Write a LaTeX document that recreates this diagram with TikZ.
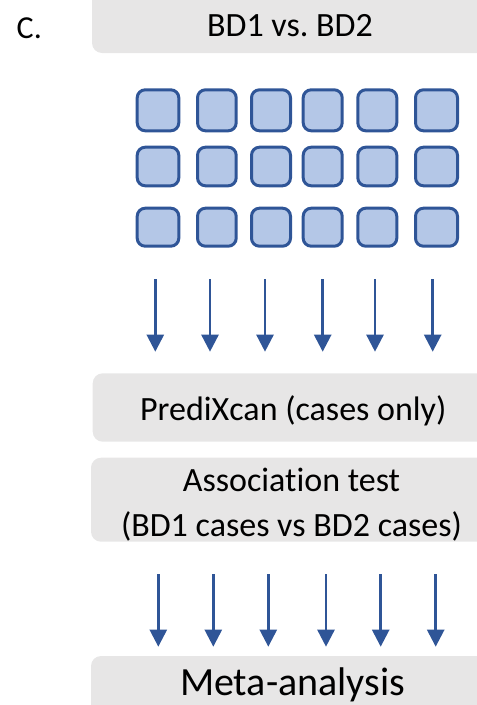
\documentclass[tikz,border=0pt]{standalone}
\usepackage{fontspec}
\setmainfont{Carlito}[RawFeature={-liga}]
\usetikzlibrary{arrows.meta}
\definecolor{boxgray}{HTML}{E7E6E6}
\definecolor{sqfill}{HTML}{B4C7E7}
\definecolor{sqline}{HTML}{2F5597}
\frenchspacing
\begin{document}
\begin{tikzpicture}[x=1pt,y=-1pt,
  graybox/.style={fill=boxgray, draw=none, rounded corners=10pt, rectangle, inner sep=0pt, outer sep=0pt, anchor=north west},
  sq/.style={rectangle, fill=sqfill, draw=sqline, line width=3pt, rounded corners=8pt, inner sep=0pt, outer sep=0pt},
  txt/.style={inner sep=0pt, outer sep=0pt, font=\fontsize{34}{45}\selectfont, text=black},
  flow/.style={draw=sqline, line width=2.5pt, -{Triangle[width=17pt,length=17pt]}}]
\useasboundingbox (0,0) rectangle (477,705);
\clip (0,0) rectangle (477,705);
% grey boxes
\node[graybox, minimum width=420pt, minimum height=70pt] (topbox) at (92,-17) {};
\node[graybox, minimum width=420pt, minimum height=68.4pt] (predbox) at (92.7,373.3) {};
\node[graybox, minimum width=420pt, minimum height=84pt] (assocbox) at (91,457.7) {};
\node[graybox, minimum width=420pt, minimum height=80pt] (metabox) at (91,656) {};
% texts
\node[txt, anchor=base west, font=\fontsize{32}{38}\selectfont] (lab) at (16.7,38.3) {C.};
\node[txt, anchor=base] (t0) at (290,36) {BD1 vs. BD2};
\node[txt, anchor=base] (t1) at (293.3,420) {PrediXcan (cases only)};
\node[txt, anchor=base, align=center] (t2) at (291.5,536.7) {Association test\\(BD1 cases vs BD2 cases)};
\node[txt, anchor=base, font=\fontsize{40}{48}\selectfont] (t3) at (292.5,695) {Meta-analysis};
% squares
\foreach \c/\cx/\cw in {1/158/44.6, 2/216.85/41.7, 3/271/42, 4/322.7/42, 5/377.3/42, 6/436.5/45}
  \foreach \r/\ry/\rh in {1/110.3/44, 2/166.5/41.6, 3/227.2/41}
    \node[sq, minimum width=\cw pt-3pt, minimum height=\rh pt-3pt] (s\r\c) at (\cx,\ry) {};
% arrows
\foreach \i/\x in {1/155.3, 2/210, 3/265, 4/322.7, 5/375, 6/432.7} {
  \coordinate (ua\i) at (\x,279.3);
  \coordinate (ub\i) at (\x,351.7);
  \draw[flow] (ua\i) -- (ub\i);
}
\foreach \i/\x in {1/158.3, 2/213.3, 3/268.3, 4/326, 5/380.7, 6/435.7} {
  \coordinate (la\i) at (\x,574.3);
  \coordinate (lb\i) at (\x,646.7);
  \draw[flow] (la\i) -- (lb\i);
}
\end{tikzpicture}
\end{document}
